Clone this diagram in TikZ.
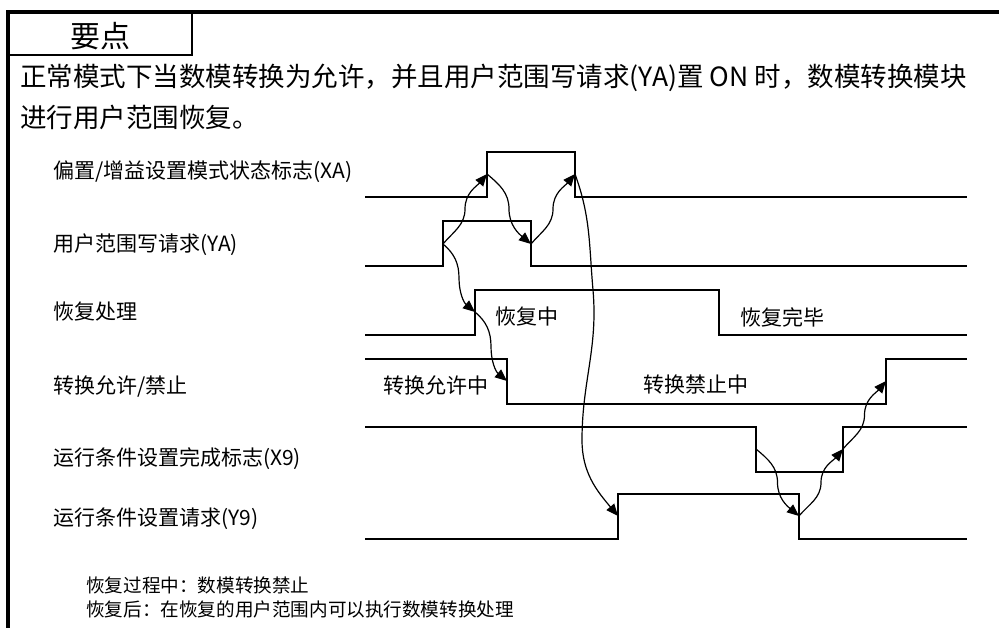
\documentclass[tikz,border=0pt]{standalone}
\usepackage{fontspec}
\setmainfont{Noto Sans CJK SC}
\usetikzlibrary{arrows.meta,calc}

\begin{document}
\begin{tikzpicture}[x=1pt,y=1pt,
    wave/.style={line width=1.3pt},
    flow/.style={line width=1.2pt,-{Triangle[length=12pt,width=10pt]}},
    lbl/.style={anchor=west,inner sep=0pt,font=\fontsize{21}{21}\selectfont},
    state/.style={anchor=west,inner sep=0pt,font=\fontsize{21}{21}\selectfont},
    note/.style={anchor=west,inner sep=0pt,font=\fontsize{18.6}{18.6}\selectfont}]
        \useasboundingbox (0,0) rectangle (999,-628);
        % frame and title box
        \draw[line width=4pt] (8,-628) -- (8,-12) -- (999,-12);
        \draw[line width=2pt] (8,-55) -- (192,-55) -- (192,-12);
        \node[inner sep=0pt,font=\fontsize{30}{30}\selectfont] (title) at (100,-36) {要点};
        \node[anchor=west,inner sep=0pt,font=\fontsize{26.5}{26.5}\selectfont] (intro1) at (20,-78) {正常模式下当数模转换为允许，并且用户范围写请求(YA)置 ON 时，数模转换模块};
        \node[anchor=west,inner sep=0pt,font=\fontsize{26.5}{26.5}\selectfont] (intro2) at (20,-117) {进行用户范围恢复。};

        % signal names
        \node[lbl] (xa) at (53,-172) {偏置/增益设置模式状态标志(XA)};
        \node[lbl] (ya) at (53,-245) {用户范围写请求(YA)};
        \node[lbl] (rc) at (53,-312) {恢复处理};
        \node[lbl] (cv) at (53,-386) {转换允许/禁止};
        \node[lbl] (x9) at (53,-459) {运行条件设置完成标志(X9)};
        \node[lbl] (y9) at (53,-519) {运行条件设置请求(Y9)};

        % waveforms
        \draw[wave] (365,-197) -- (487,-197) -- (487,-152) -- (575,-152) -- (575,-197) -- (967,-197);
        \draw[wave] (365,-266) -- (443,-266) -- (443,-221) -- (531,-221) -- (531,-266) -- (967,-266);
        \draw[wave] (365,-335) -- (475,-335) -- (475,-290) -- (719,-290) -- (719,-335) -- (967,-335);
        \draw[wave] (365,-359) -- (507,-359) -- (507,-404) -- (886,-404) -- (886,-359) -- (967,-359);
        \draw[wave] (365,-427) -- (756,-427) -- (756,-472) -- (843,-472) -- (843,-427) -- (967,-427);
        \draw[wave] (365,-539) -- (618,-539) -- (618,-494) -- (799,-494) -- (799,-539) -- (967,-539);

        \node[state] (busy) at (495,-317) {恢复中};
        \node[state] (done) at (740,-317) {恢复完毕};
        \node[state] (allow) at (383,-385) {转换允许中};
        \node[state] (deny) at (643,-385) {转换禁止中};

        % edge points
        \coordinate (xaR) at (487,-174);
        \coordinate (xaF) at (575,-174);
        \coordinate (yaR) at (443,-244);
        \coordinate (yaF) at (531,-244);
        \coordinate (rcR) at (475,-312);
        \coordinate (cvF) at (507,-381);
        \coordinate (cvR) at (886,-381);
        \coordinate (x9F) at (756,-449);
        \coordinate (x9R) at (843,-449);
        \coordinate (y9R) at (618,-516);
        \coordinate (y9F) at (799,-516);

        % causal arrows
        \foreach \s/\t in {yaR/xaR, yaF/xaF, y9F/x9R, x9R/cvR}
            \draw[flow] (\s) to[out=50,in=-90] ($(\s)!.5!(\t)$) to[out=90,in=-130] (\t);
        \foreach \s/\t in {xaR/yaF, yaR/rcR, rcR/cvF, x9F/y9F}
            \draw[flow] (\s) to[out=-40,in=90] ($(\s)!.5!(\t)$) to[out=-90,in=140] (\t);
        \draw[flow] (xaF) to[out=-70,in=95] (593,-290) to[out=-85,in=90] (582,-440) to[out=-90,in=130] (y9R);

        \node[note] (n1) at (86,-585) {恢复过程中：数模转换禁止};
        \node[note] (n2) at (86,-609) {恢复后：在恢复的用户范围内可以执行数模转换处理};
    \end{tikzpicture}
\end{document}
